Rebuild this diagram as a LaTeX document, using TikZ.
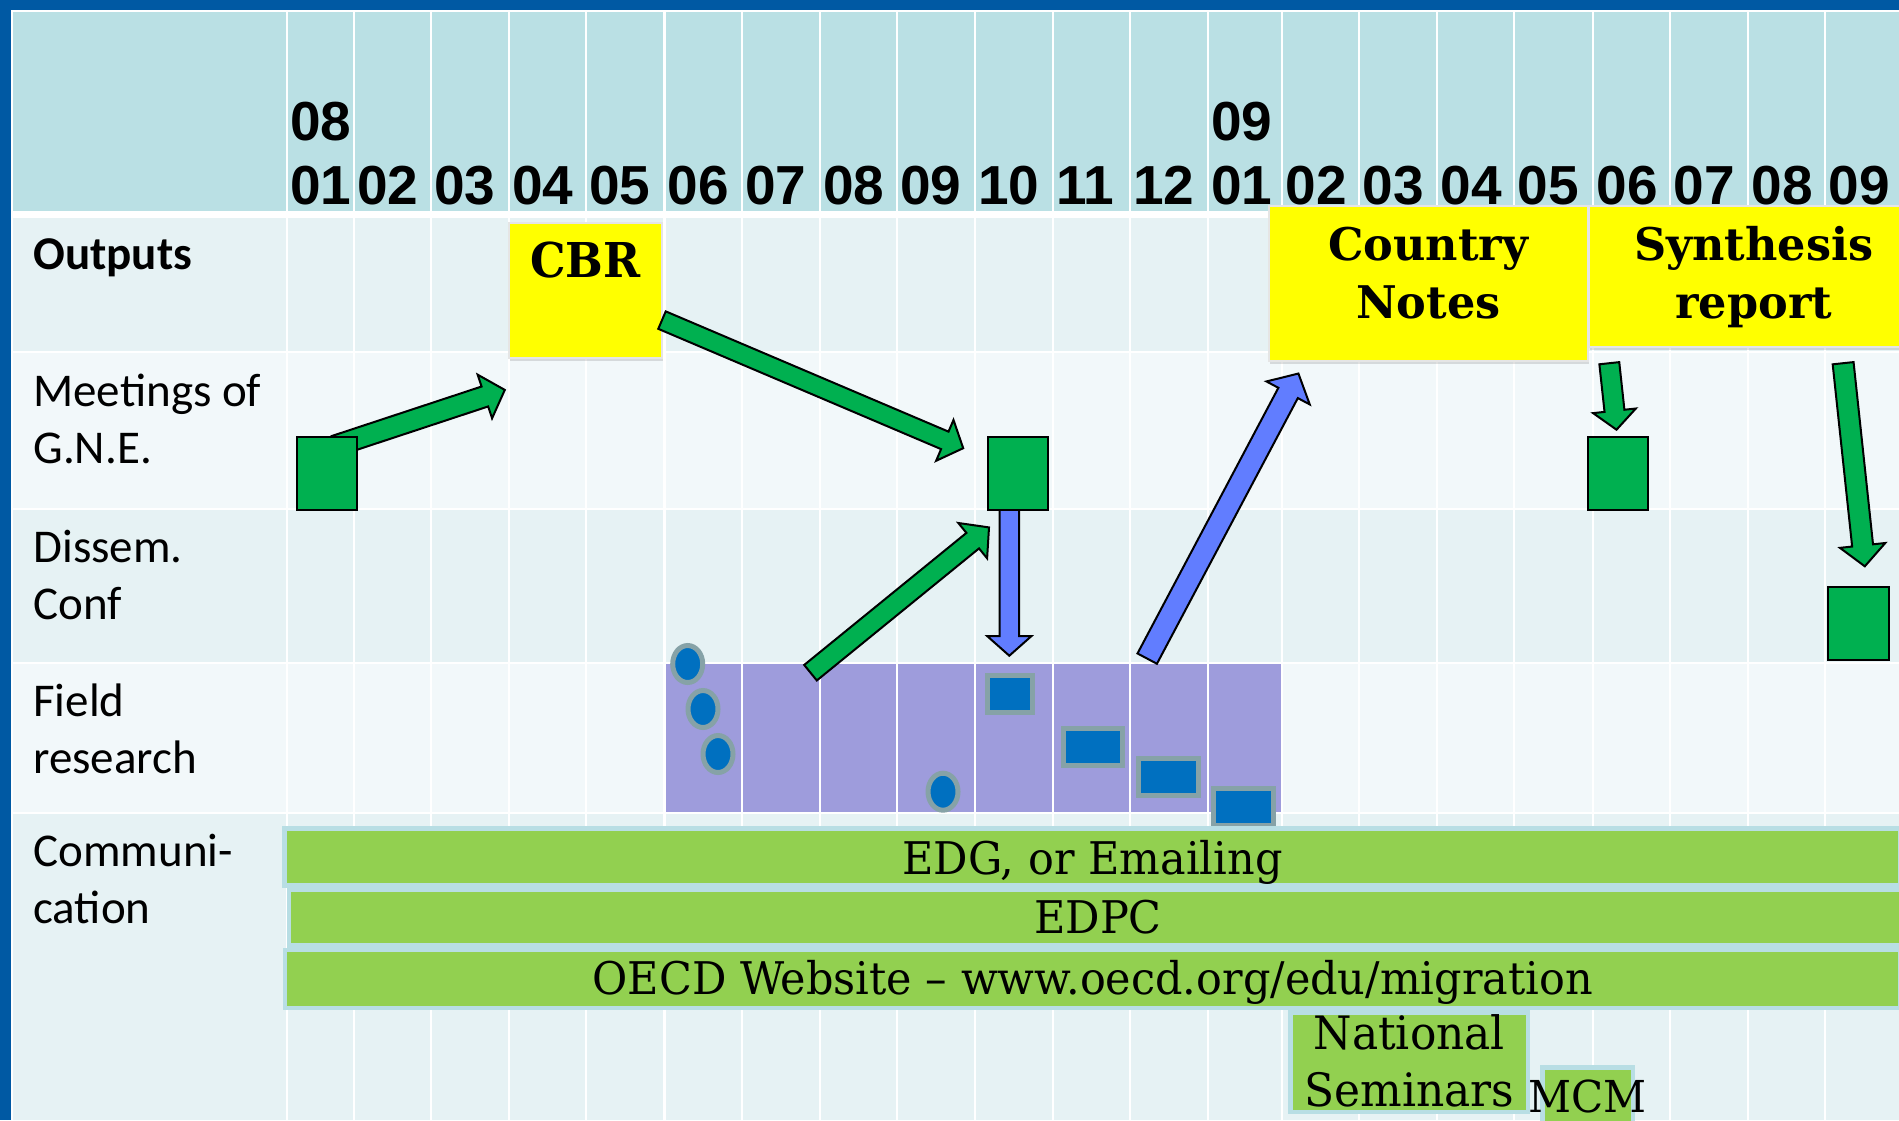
\documentclass[tikz,border=0pt]{standalone}
\usepackage{fontspec}
\usetikzlibrary{calc,shadows,shapes.geometric}
\newfontfamily\hdrfont{Liberation Sans}
\newfontfamily\lblfont{Carlito}
\newfontfamily\barfont{DejaVu Serif}[FakeStretch=0.955]
\newfontfamily\boxfont{DejaVu Serif}[FakeStretch=0.99]
\newfontfamily\cbrfont{DejaVu Serif}[FakeStretch=0.93]
\definecolor{frameblue}{RGB}{0,89,163}
\definecolor{hdrcol}{RGB}{186,224,228}
\definecolor{banddark}{RGB}{230,242,244}
\definecolor{bandlight}{RGB}{242,248,250}
\definecolor{fieldpurple}{RGB}{158,156,220}
\definecolor{itemblue}{RGB}{0,112,192}
\definecolor{itemborder}{RGB}{134,162,167}
\definecolor{outyellow}{RGB}{255,255,0}
\definecolor{gnegreen}{RGB}{0,176,80}
\definecolor{arrowblue}{RGB}{97,125,255}
\definecolor{bargreen}{RGB}{146,208,80}
\definecolor{barborder}{RGB}{184,222,228}
% block arrow: #1 style, #2 tail, #3 tip, #4 half shaft width, #5 half head width, #6 head length
\newcommand{\blockarrow}[6]{%
  \coordinate (ba-n) at ($(#3)!#6!(#2)$);
  \draw[#1] ($(#2)!#4!90:(#3)$) -- ($(ba-n)!#4!90:(#3)$) -- ($(ba-n)!#5!90:(#3)$)
    -- (#3) -- ($(ba-n)!#5!-90:(#3)$) -- ($(ba-n)!#4!-90:(#3)$) -- ($(#2)!#4!-90:(#3)$) -- cycle;
}
\begin{document}
\begin{tikzpicture}[x=0.5pt,y=-0.5pt,
  hdrlab/.style={anchor=base west, inner sep=0pt, font=\hdrfont\bfseries\fontsize{27.5}{33}\selectfont},
  rowlab/.style={anchor=base west, inner sep=0pt, font=\lblfont\fontsize{23.5}{28.5}\selectfont},
  ybox/.style={rectangle, fill=outyellow, draw=white!90!black, line width=0.75pt, inner sep=0pt, anchor=north west,
    font=\boxfont\bfseries\fontsize{22.5}{29}\selectfont,
    drop shadow={shadow xshift=0.5pt, shadow yshift=-1.5pt, opacity=0.25}},
  gsq/.style={rectangle, fill=gnegreen, draw=black, line width=1pt, minimum width=30pt, minimum height=36.3pt, inner sep=0pt},
  fellipse/.style={ellipse, fill=itemblue, draw=itemborder, line width=2.5pt, minimum width=15pt, minimum height=18.5pt, inner sep=0pt},
  frect/.style={rectangle, fill=itemblue, draw=itemborder, line width=2.5pt, minimum height=18.5pt, inner sep=0pt},
  cbar/.style={rectangle, fill=bargreen, draw=barborder, line width=2.25pt, inner sep=0pt, anchor=north west,
    font=\barfont\fontsize{22.5}{28.5}\selectfont},
  garrow/.style={fill=gnegreen, draw=black, line width=1pt, line join=miter},
  barrow/.style={fill=arrowblue, draw=black, line width=1pt, line join=miter},
  gridline/.style={white, line width=1.25pt}
]
\useasboundingbox (0,0) rectangle (1899,1120);
\clip (0,0) rectangle (1899,1120);
% background and frame
\fill[white] (0,0) rectangle (1899,1120);
\fill[frameblue] (0,0) rectangle (1899,9.5);
\fill[frameblue] (0,0) rectangle (11,1120);
% row bands
\fill[hdrcol] (13,12) rectangle (1899,211);
\fill[banddark] (13,218) rectangle (1899,350.5);
\fill[bandlight] (13,352.5) rectangle (1899,507.5);
\fill[banddark] (13,509.5) rectangle (1899,661.5);
\fill[bandlight] (13,663.5) rectangle (1899,811.5);
\fill[banddark] (13,813.5) rectangle (1899,1120);
% field research period
\fill[fieldpurple] (664,663.5) rectangle (1282,811.5);
% column lines
\foreach \x in {287,354,431,509,586,664.5,742,820,897,975,1053,1130,1208,1282,1359,1437,1514,1593,1670,1748,1825}
  \draw[gridline] (\x,12) -- (\x,1120);
% header labels
\node[hdrlab] (y08) at (290,140) {08};
\node[hdrlab] (y09) at (1211,140) {09};
\foreach \x/\lab [count=\i] in {287/01,354/02,431/03,509/04,586/05,664.5/06,742/07,820/08,897/09,975/10,1053/11,1130/12,1208/01,1282/02,1359/03,1437/04,1514/05,1593/06,1670/07,1748/08,1825/09}
  \node[hdrlab] (m\i) at (\x+3,204) {\lab};
% row labels
\node[rowlab] (lOut) at (33,269) {\bfseries Outputs};
\node[rowlab] (lMeet) at (33,406) {\begin{tabular}[t]{@{}l@{}}Meetings of\\G.N.E.\end{tabular}};
\node[rowlab] (lDiss) at (33,562) {\begin{tabular}[t]{@{}l@{}}Dissem.\\Conf\end{tabular}};
\node[rowlab] (lField) at (33,716.5) {\begin{tabular}[t]{@{}l@{}}Field\\research\end{tabular}};
\node[rowlab] (lComm) at (33,866.6) {\begin{tabular}[t]{@{}l@{}}Communi-\\cation\end{tabular}};
% outputs
\node[ybox, minimum width=76.5pt, text height=27.5pt, text depth=40pt, font=\cbrfont\bfseries\fontsize{24}{29}\selectfont] (cbr) at (508,222) {CBR};
\node[ybox, minimum width=159.5pt, text height=27.5pt, text depth=50pt] (cn) at (1268,205) {\begin{tabular}[t]{@{}c@{}}Country\\Notes\end{tabular}};
\node[ybox, minimum width=165pt, text height=27.5pt, text depth=43pt] (sr) at (1588,205) {\begin{tabular}[t]{@{}c@{}}Synthesis\\report\end{tabular}};
% arrow coordinates
\coordinate (aA-t) at (335,446);      \coordinate (aA-h) at (504.8,389.9);
\coordinate (aB-t) at (662,320.1);    \coordinate (aB-h) at (963.2,448.2);
\coordinate (aC-t) at (810.5,672.7);  \coordinate (aC-h) at (989,527.4);
\coordinate (aD-t) at (1147.2,658.6); \coordinate (aD-h) at (1298.4,373.5);
\coordinate (aE-t) at (1609.3,363.2); \coordinate (aE-h) at (1616.5,429.7);
\coordinate (aF-t) at (1843.1,363.2); \coordinate (aF-h) at (1864.8,566.3);
\coordinate (aG-t) at (1009.3,509);   \coordinate (aG-h) at (1009.3,655.7);
% meeting 1
\blockarrow{garrow}{aA-t}{aA-h}{5.25pt}{11.5pt}{10.5pt}
\node[gsq] (sq1) at (327.2,473.4) {};
\blockarrow{garrow}{aB-t}{aB-h}{4.75pt}{11.1pt}{10pt}
% field research items
\node[fellipse] (e1) at (687.7,664) {};
\node[fellipse] (e2) at (703,709) {};
\node[fellipse] (e3) at (718,754) {};
\node[fellipse] (e4) at (943,791.7) {};
\node[frect, minimum width=22.7pt] (r1) at (1010.2,694) {};
\node[frect, minimum width=29.8pt] (r2) at (1093,746.7) {};
\node[frect, minimum width=30.1pt] (r3) at (1168.1,776.7) {};
\node[frect, minimum width=29.75pt] (r4) at (1243.3,806.7) {};
% meeting 2 and links
\blockarrow{barrow}{aG-t}{aG-h}{4.9pt}{11pt}{9.75pt}
\node[gsq] (sq2) at (1017.5,473.3) {};
\blockarrow{garrow}{aC-t}{aC-h}{5pt}{11.4pt}{10.5pt}
\blockarrow{barrow}{aD-t}{aD-h}{5.5pt}{12.25pt}{11pt}
\blockarrow{garrow}{aE-t}{aE-h}{5pt}{10.75pt}{9.5pt}
\node[gsq] (sq3) at (1617.5,473.7) {};
\blockarrow{garrow}{aF-t}{aF-h}{5.25pt}{11.4pt}{10.5pt}
\node[gsq, minimum width=30.5pt, minimum height=36.6pt] (sq4) at (1858,623.7) {};
% communication bars
\node[cbar, minimum width=807.85pt, text height=23.1pt, text depth=5.4pt] (edg) at (282.3,826.3) {EDG, or Emailing};
\node[cbar, minimum width=809.25pt, text height=21.75pt, text depth=6.15pt] (edpc) at (286.5,887.5) {EDPC};
\node[cbar, minimum width=807.6pt, text height=22.4pt, text depth=6.6pt] (web) at (282.8,947.5) {OECD Website – www.oecd.org/edu/migration};
\node[cbar, minimum width=118.75pt, text height=18.65pt, text depth=31pt, font=\barfont\fontsize{23}{28.5}\selectfont] (nat) at (1288.3,1010.3) {\begin{tabular}[t]{@{}c@{}}National\\Seminars\end{tabular}};
\draw[fill=bargreen, draw=barborder, line width=2.25pt] (1542.3,1067.3) rectangle (1632.8,1130);
\node[anchor=base, inner sep=0pt, font=\barfont\fontsize{22}{28}\selectfont] (mcm) at (1587.5,1112) {MCM};
\end{tikzpicture}
\end{document}
